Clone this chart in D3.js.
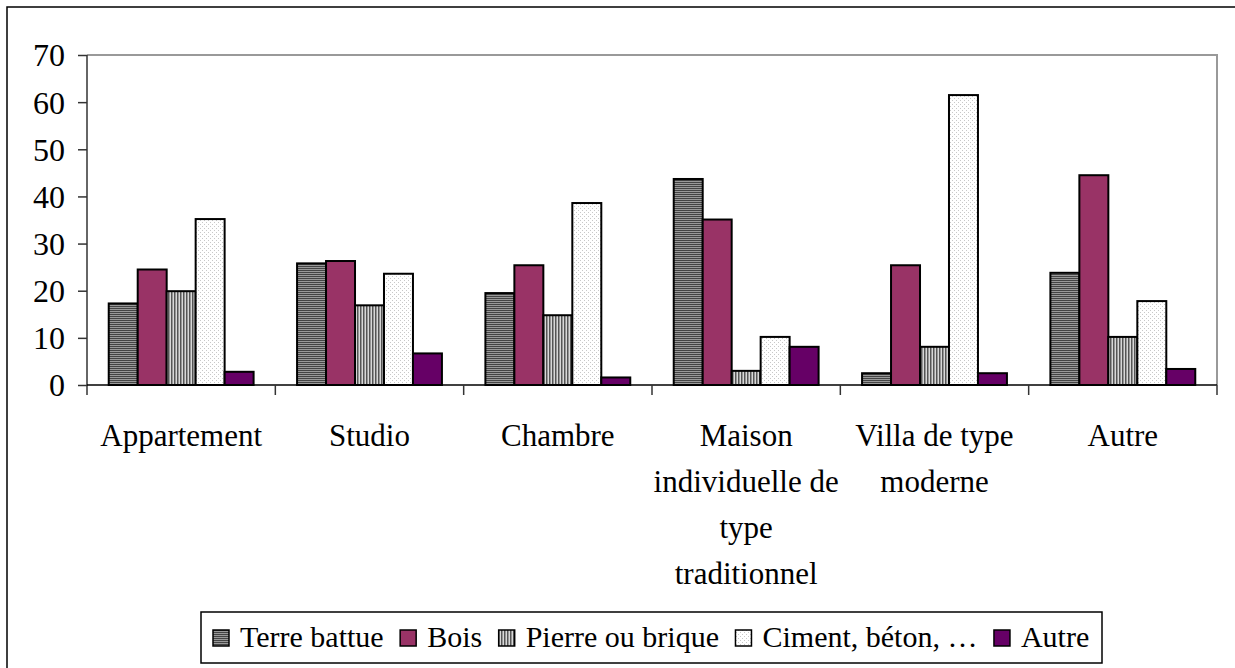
<!DOCTYPE html>
<html>
<head>
<meta charset="utf-8">
<script src="https://cdn.jsdelivr.net/npm/d3@7"></script>
<style>
  body { margin: 0; background: #fff; }
  svg text { font-family: "Liberation Serif", "Times New Roman", "DejaVu Serif", serif !important; fill: #000; }
</style>
</head>
<body>
<svg></svg>
<script>
/* jslint esversion:6 */

var categories = ["Appartement", "Studio", "Chambre",
                  "Maison individuelle de type traditionnel",
                  "Villa de type moderne", "Autre"];
var series = ["Terre battue", "Bois", "Pierre ou brique", "Ciment, béton, …", "Autre"];

var terreBattue = [17.3, 25.8, 19.5, 43.7, 2.5, 23.8];
var bois        = [24.5, 26.3, 25.4, 35.1, 25.4, 44.5];
var pierre      = [19.9, 16.9, 14.8, 3.0, 8.1, 10.2];
var ciment      = [35.2, 23.6, 38.6, 10.2, 61.5, 17.8];
var autre       = [2.8, 6.7, 1.6, 8.1, 2.5, 3.4];

var yTicks = [0, 10, 20, 30, 40, 50, 60, 70];

document.addEventListener("DOMContentLoaded", function() {

  var width = 1235;
  var height = 668;
  var plot = { left: 87, right: 1217, top: 55, bottom: 385 };

  var values = [terreBattue, bois, pierre, ciment, autre];
  var rows = [];
  categories.forEach(function(c, i) {
    series.forEach(function(s, j) {
      rows.push({ category: c, series: s, idx: j, value: values[j][i] });
    });
  });

  var svg = d3.select("svg")
      .attr("width", width)
      .attr("height", height);

  // fill patterns
  var defs = svg.append("defs");

  var pTerre = defs.append("pattern")
      .attr("id", "p0").attr("patternUnits", "userSpaceOnUse")
      .attr("width", 4).attr("height", 2);
  pTerre.append("rect").attr("width", 4).attr("height", 2).attr("fill", "#999");
  pTerre.append("rect").attr("width", 4).attr("height", 1).attr("fill", "#444");

  var pPierre = defs.append("pattern")
      .attr("id", "p2").attr("patternUnits", "userSpaceOnUse")
      .attr("width", 3).attr("height", 4);
  pPierre.append("rect").attr("width", 3).attr("height", 4).attr("fill", "#d8d8d8");
  pPierre.append("rect").attr("width", 1.5).attr("height", 4).attr("fill", "#555");

  var pCiment = defs.append("pattern")
      .attr("id", "p3").attr("patternUnits", "userSpaceOnUse")
      .attr("width", 4).attr("height", 4);
  pCiment.append("rect").attr("width", 4).attr("height", 4).attr("fill", "#fff");
  pCiment.append("rect").attr("x", 0).attr("y", 0).attr("width", 1).attr("height", 1).attr("fill", "#c8c8c8");
  pCiment.append("rect").attr("x", 2).attr("y", 2).attr("width", 1).attr("height", 1).attr("fill", "#c8c8c8");

  var fills = ["url(#p0)", "#993366", "url(#p2)", "url(#p3)", "#660066"];

  var xScale = d3.scaleBand()
                 .domain(categories)
                 .range([plot.left, plot.right]);

  var xInner = d3.scaleBand()
                 .domain(series)
                 .range([0, xScale.bandwidth()])
                 .paddingOuter(0.75);

  var yScale = d3.scaleLinear()
                 .domain([0, 70])
                 .range([plot.bottom, plot.top]);

  // outer frame (runs off the bottom-right edge)
  svg.append("rect")
      .attr("x", 7).attr("y", 7)
      .attr("width", width + 20).attr("height", height + 20)
      .attr("fill", "none")
      .attr("stroke", "#000")
      .attr("stroke-width", 1.5);

  // plot area border, top and right
  svg.append("path")
      .attr("d", "M" + plot.left + "," + plot.top + "H" + plot.right + "V" + plot.bottom)
      .attr("fill", "none")
      .attr("stroke", "#999")
      .attr("stroke-width", 2);

  // bars
  svg.append("g")
    .selectAll("rect")
    .data(rows)
    .enter()
    .append("rect")
      .attr("x", d => xScale(d.category) + xInner(d.series))
      .attr("y", d => yScale(d.value))
      .attr("width", xInner.bandwidth())
      .attr("height", d => yScale(0) - yScale(d.value))
      .attr("fill", d => fills[d.idx])
      .attr("stroke", "#000")
      .attr("stroke-width", 2);

  // y axis
  var yAxis = d3.axisLeft(yScale)
                .tickValues(yTicks)
                .tickSize(9)
                .tickPadding(13)
                .tickFormat(d3.format("d"));

  var gy = svg.append("g")
      .attr("transform", "translate(" + plot.left + ",0)")
      .call(yAxis)
      .attr("font-family", null)
      .attr("font-size", null);
  gy.select(".domain").attr("stroke", "#333").attr("stroke-width", 1.5)
      .attr("d", "M0," + plot.top + "V" + (plot.bottom + 10));
  gy.selectAll(".tick line").attr("stroke", "#333").attr("stroke-width", 1.5);
  gy.selectAll(".tick text")
      .style("font-size", "32px")
      .attr("dy", "0.34em");

  // x axis: ticks at the category boundaries
  var boundaries = categories.map(c => xScale(c)).concat([plot.right]);
  var gx = svg.append("g");
  gx.append("line")
      .attr("x1", plot.left).attr("x2", plot.right)
      .attr("y1", plot.bottom).attr("y2", plot.bottom)
      .attr("stroke", "#000").attr("stroke-width", 1.5);
  gx.selectAll("line.tick")
    .data(boundaries.slice(1))
    .enter()
    .append("line")
      .attr("class", "tick")
      .attr("x1", d => d).attr("x2", d => d)
      .attr("y1", plot.bottom).attr("y2", plot.bottom + 10)
      .attr("stroke", "#333").attr("stroke-width", 1.5);

  var labels = gx.selectAll("text")
    .data(categories)
    .enter()
    .append("text")
      .attr("x", d => xScale(d) + xScale.bandwidth() / 2)
      .attr("y", 446)
      .style("text-anchor", "middle")
      .style("font-size", "31px")
      .text(d => d);

  labels.each(function(d) {
    var t = d3.select(this);
    var cx = +t.attr("x");
    var words = d.split(" ");
    var lines = [];
    var line = [];
    t.text(null);
    var probe = t.append("tspan");
    words.forEach(function(w) {
      line.push(w);
      probe.text(line.join(" "));
      if (probe.node().getComputedTextLength() > xScale.bandwidth() && line.length > 1) {
        line.pop();
        lines.push(line.join(" "));
        line = [w];
      }
    });
    lines.push(line.join(" "));
    probe.remove();
    lines.forEach(function(l, i) {
      t.append("tspan")
        .attr("x", cx)
        .attr("dy", i === 0 ? 0 : 46)
        .text(l);
    });
  });

  // legend
  var legend = svg.append("g");
  legend.append("rect")
      .attr("x", 201).attr("y", 612)
      .attr("width", 901).attr("height", 51)
      .attr("fill", "#fff")
      .attr("stroke", "#000")
      .attr("stroke-width", 1.5);

  var lx = 213;
  series.forEach(function(s, j) {
    var item = legend.append("g");
    item.append("rect")
        .attr("x", lx).attr("y", 630)
        .attr("width", 16).attr("height", 16)
        .attr("fill", fills[j])
        .attr("stroke", "#000")
        .attr("stroke-width", 1.5);
    var txt = item.append("text")
        .attr("x", lx + 27)
        .attr("y", 647)
        .style("font-size", "30px")
        .text(s);
    lx += 27 + txt.node().getComputedTextLength() + 16.5;
  });
});
</script>
</body>
</html>
